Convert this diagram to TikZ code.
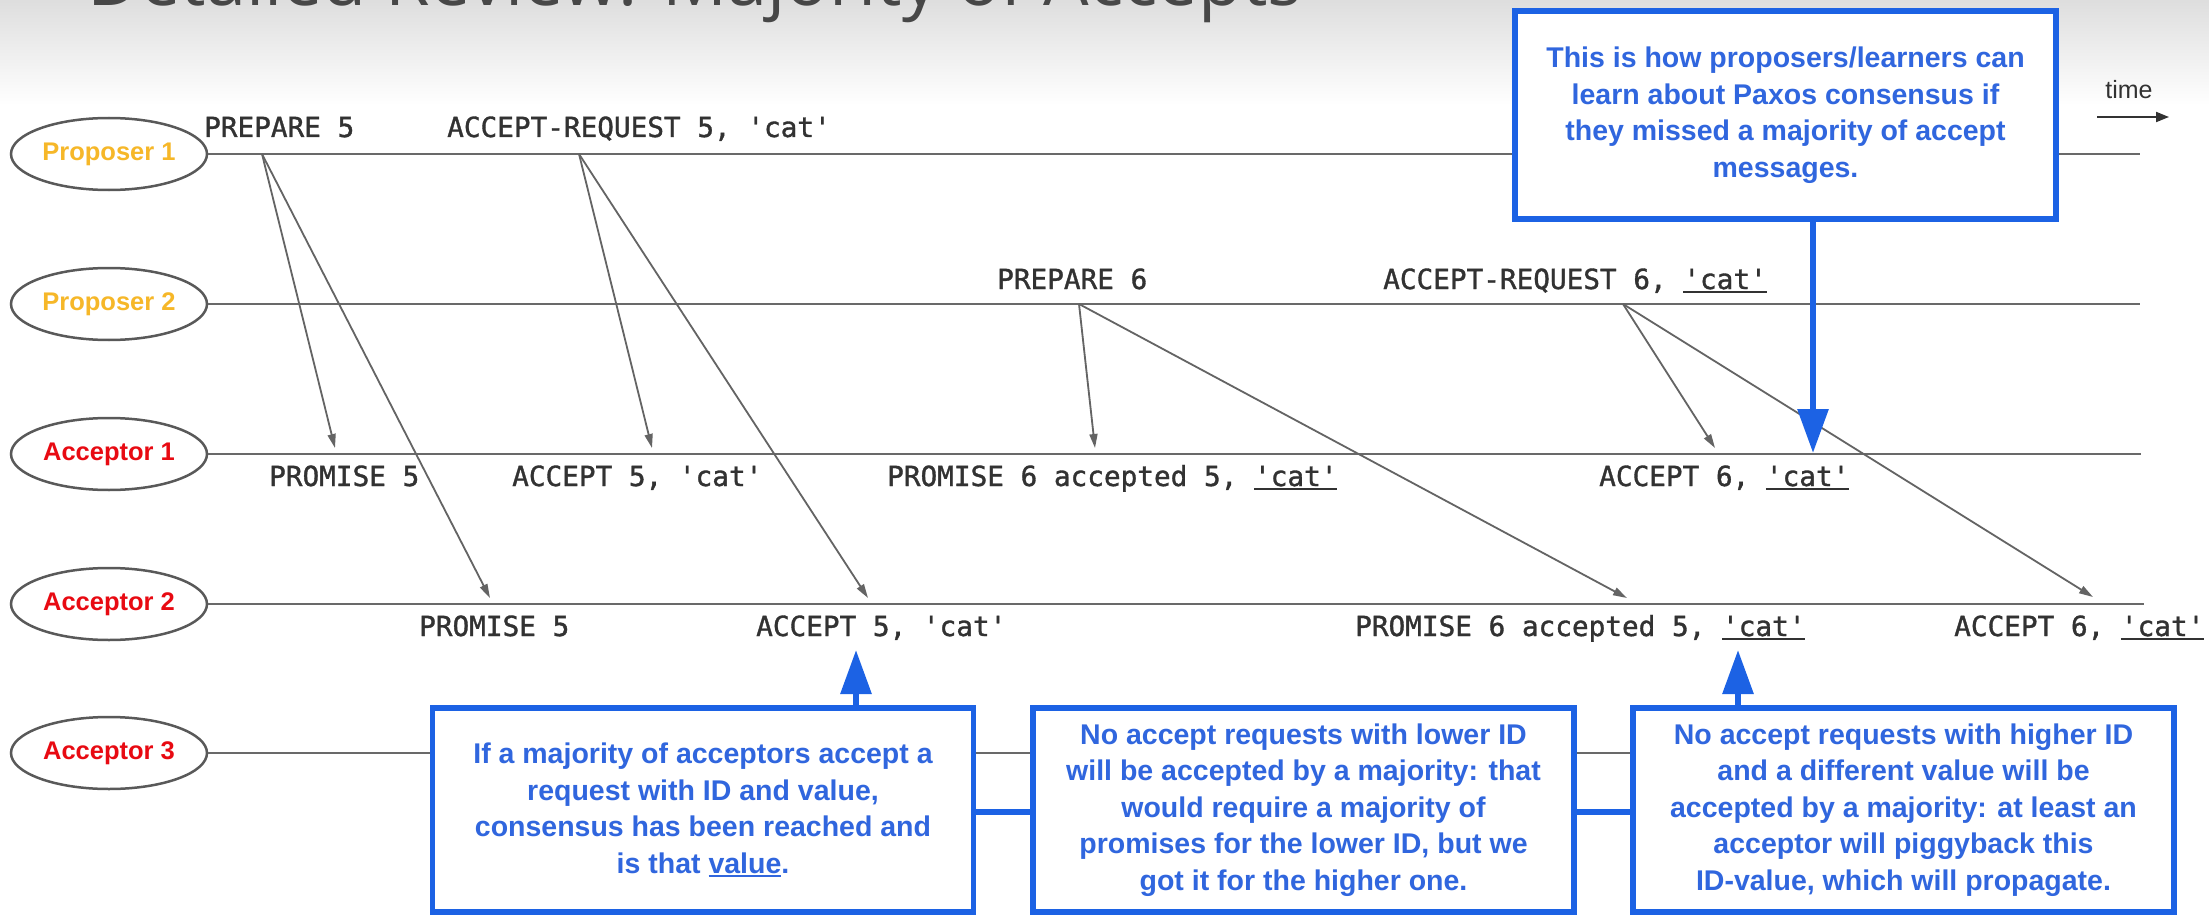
\documentclass[tikz,border=0pt]{standalone}
\usepackage{fontspec}
\setmainfont{Liberation Sans}
\setmonofont{DejaVu Sans Mono}[FakeBold=1.2]
\newfontfamily\titlefont{Open Sans}
\usetikzlibrary{arrows.meta,shapes.geometric}
\definecolor{boxblue}{RGB}{28,98,228}
\definecolor{txtblue}{RGB}{48,102,222}
\definecolor{propcol}{RGB}{246,183,40}
\definecolor{acccol}{RGB}{232,10,18}
\definecolor{linegray}{RGB}{105,105,105}
\definecolor{msggray}{RGB}{100,100,100}
\definecolor{labgray}{RGB}{50,50,50}
\newsavebox\ulbox
\newcommand\catul[1]{\sbox\ulbox{#1}\rlap{\rule[-4pt]{\wd\ulbox}{2.5pt}}\usebox\ulbox}
\begin{document}
\begin{tikzpicture}[x=1pt,y=-1pt,
  actor/.style={ellipse, draw=black!65, line width=2.5pt, minimum width=196pt, minimum height=72pt, inner sep=0pt, fill=white, font=\fontsize{25.5}{30}\selectfont\bfseries},
  life/.style={draw=linegray, line width=2.8pt},
  msg/.style={draw=msggray, line width=1.8pt, -{Triangle[length=14pt,width=8pt]}},
  lbl/.style={anchor=base west, inner sep=0pt, text=labgray, font=\ttfamily\fontsize{27.7}{32}\selectfont},
  note/.style={draw=boxblue, line width=5.5pt, fill=white, minimum width=541pt, minimum height=204pt, inner sep=0pt, align=center, text=txtblue, font=\fontsize{28.5}{36.5}\selectfont\bfseries},
  blueline/.style={draw=boxblue, line width=6pt},
  bluearrow/.style={draw=boxblue, line width=6pt, -{Triangle[length=44pt,width=30pt]}}
]
\useasboundingbox (0,0) rectangle (2209,915);
\fill[white] (0,0) rectangle (2209,915);
\shade[top color=black!13, bottom color=white] (0,0) rectangle (2209,105);
\begin{scope}
\clip (0,0) rectangle (2209,915);
\node[anchor=base, inner sep=0pt, text=black!72, font=\titlefont\fontsize{72}{76}\selectfont] (title) at (695,6) {Detailed Review: Majority of Accepts};
\end{scope}

% actors
\node[actor, text=propcol] (P1) at (109,154) {Proposer 1};
\node[actor, text=propcol] (P2) at (109,304) {Proposer 2};
\node[actor, text=acccol] (A1) at (109,454) {Acceptor 1};
\node[actor, text=acccol] (A2) at (109,604) {Acceptor 2};
\node[actor, text=acccol] (A3) at (109,753) {Acceptor 3};

\coordinate (P1end) at (2140,154);
\coordinate (P2end) at (2140,304);
\coordinate (A1end) at (2141,454);
\coordinate (A2end) at (2144,604);

% lifelines
\draw[life] (P1.east) -- (P1end);
\draw[life] (P2.east) -- (P2end);
\draw[life] (A1.east) -- (A1end);
\draw[life] (A2.east) -- (A2end);

% message points
\coordinate (s1) at (262,154);
\coordinate (s2) at (579,154);
\coordinate (s3) at (1079,304);
\coordinate (s4) at (1623,304);
\coordinate (e1a) at (335,448);
\coordinate (e1b) at (490,598);
\coordinate (e2a) at (652,448);
\coordinate (e2b) at (868,598);
\coordinate (e3a) at (1095,448);
\coordinate (e3b) at (1627,598);
\coordinate (e4a) at (1715,448);
\coordinate (e4b) at (2093,597);
\draw[msg] (s1) -- (e1a);
\draw[msg] (s1) -- (e1b);
\draw[msg] (s2) -- (e2a);
\draw[msg] (s2) -- (e2b);
\draw[msg] (s3) -- (e3a);
\draw[msg] (s3) -- (e3b);
\draw[msg] (s4) -- (e4a);
\draw[msg] (s4) -- (e4b);

% labels
\node[lbl] (m1) at (204,137) {PREPARE 5};
\node[lbl] (m2) at (447,137) {ACCEPT-REQUEST 5, 'cat'};
\node[lbl] (m3) at (997,289) {PREPARE 6};
\node[lbl] (m4) at (1383,289) {ACCEPT-REQUEST 6, \catul{'cat'}};
\node[lbl] (m5) at (269,486) {PROMISE 5};
\node[lbl] (m6) at (512,486) {ACCEPT 5, 'cat'};
\node[lbl] (m7) at (887,486) {PROMISE 6 accepted 5, \catul{'cat'}};
\node[lbl] (m8) at (1599,486) {ACCEPT 6, \catul{'cat'}};
\node[lbl] (m9) at (419,636) {PROMISE 5};
\node[lbl] (m10) at (756,636) {ACCEPT 5, 'cat'};
\node[lbl] (m11) at (1355,636) {PROMISE 6 accepted 5, \catul{'cat'}};
\node[lbl] (m12) at (1954,636) {ACCEPT 6, \catul{'cat'}};

% time
\node[inner sep=0pt, text=labgray, font=\fontsize{25}{30}\selectfont] (time) at (2129,90) {time};
\coordinate (t0) at (2097,117);
\coordinate (t1) at (2169,117);
\draw[draw=labgray, line width=2pt, -{Triangle[length=13pt,width=10pt]}] (t0) -- (t1);

% top note
\node[note, minimum height=208pt] (topbox) at (1785.5,115) {This is how proposers/learners can\\learn about Paxos consensus if\\they missed a majority of accept\\messages.};

% bottom notes
\node[note] (boxA) at (703,810) {If a majority of acceptors accept a\\request with ID and value,\\consensus has been reached and\\is that \catul{value}.};
\node[note] (boxB) at (1303.5,810) {No accept requests with lower ID\\will be accepted by a majority: that\\would require a majority of\\promises for the lower ID, but we\\got it for the higher one.};
\node[note] (boxC) at (1903.5,810) {No accept requests with higher ID\\and a different value will be\\accepted by a majority: at least an\\acceptor will piggyback this\\ID-value, which will propagate.};

% acceptor 3 line segments
\draw[life] (A3.east) -- (boxA.west |- A3.east);
\draw[life] (boxA.east |- A3.east) -- (boxB.west |- A3.east);
\draw[life] (boxB.east |- A3.east) -- (boxC.west |- A3.east);

% blue connectors
\coordinate (cy) at (0,812);
\draw[blueline] (boxA.east |- cy) -- (boxB.west |- cy);
\draw[blueline] (boxB.east |- cy) -- (boxC.west |- cy);

% blue arrows
\coordinate (tipT) at (1813,453);
\coordinate (tipA) at (856,650);
\coordinate (tipC) at (1738,650);
\draw[bluearrow] (topbox.south -| tipT) -- (tipT);
\draw[bluearrow] (boxA.north -| tipA) -- (tipA);
\draw[bluearrow] (boxC.north -| tipC) -- (tipC);
\end{tikzpicture}
\end{document}
